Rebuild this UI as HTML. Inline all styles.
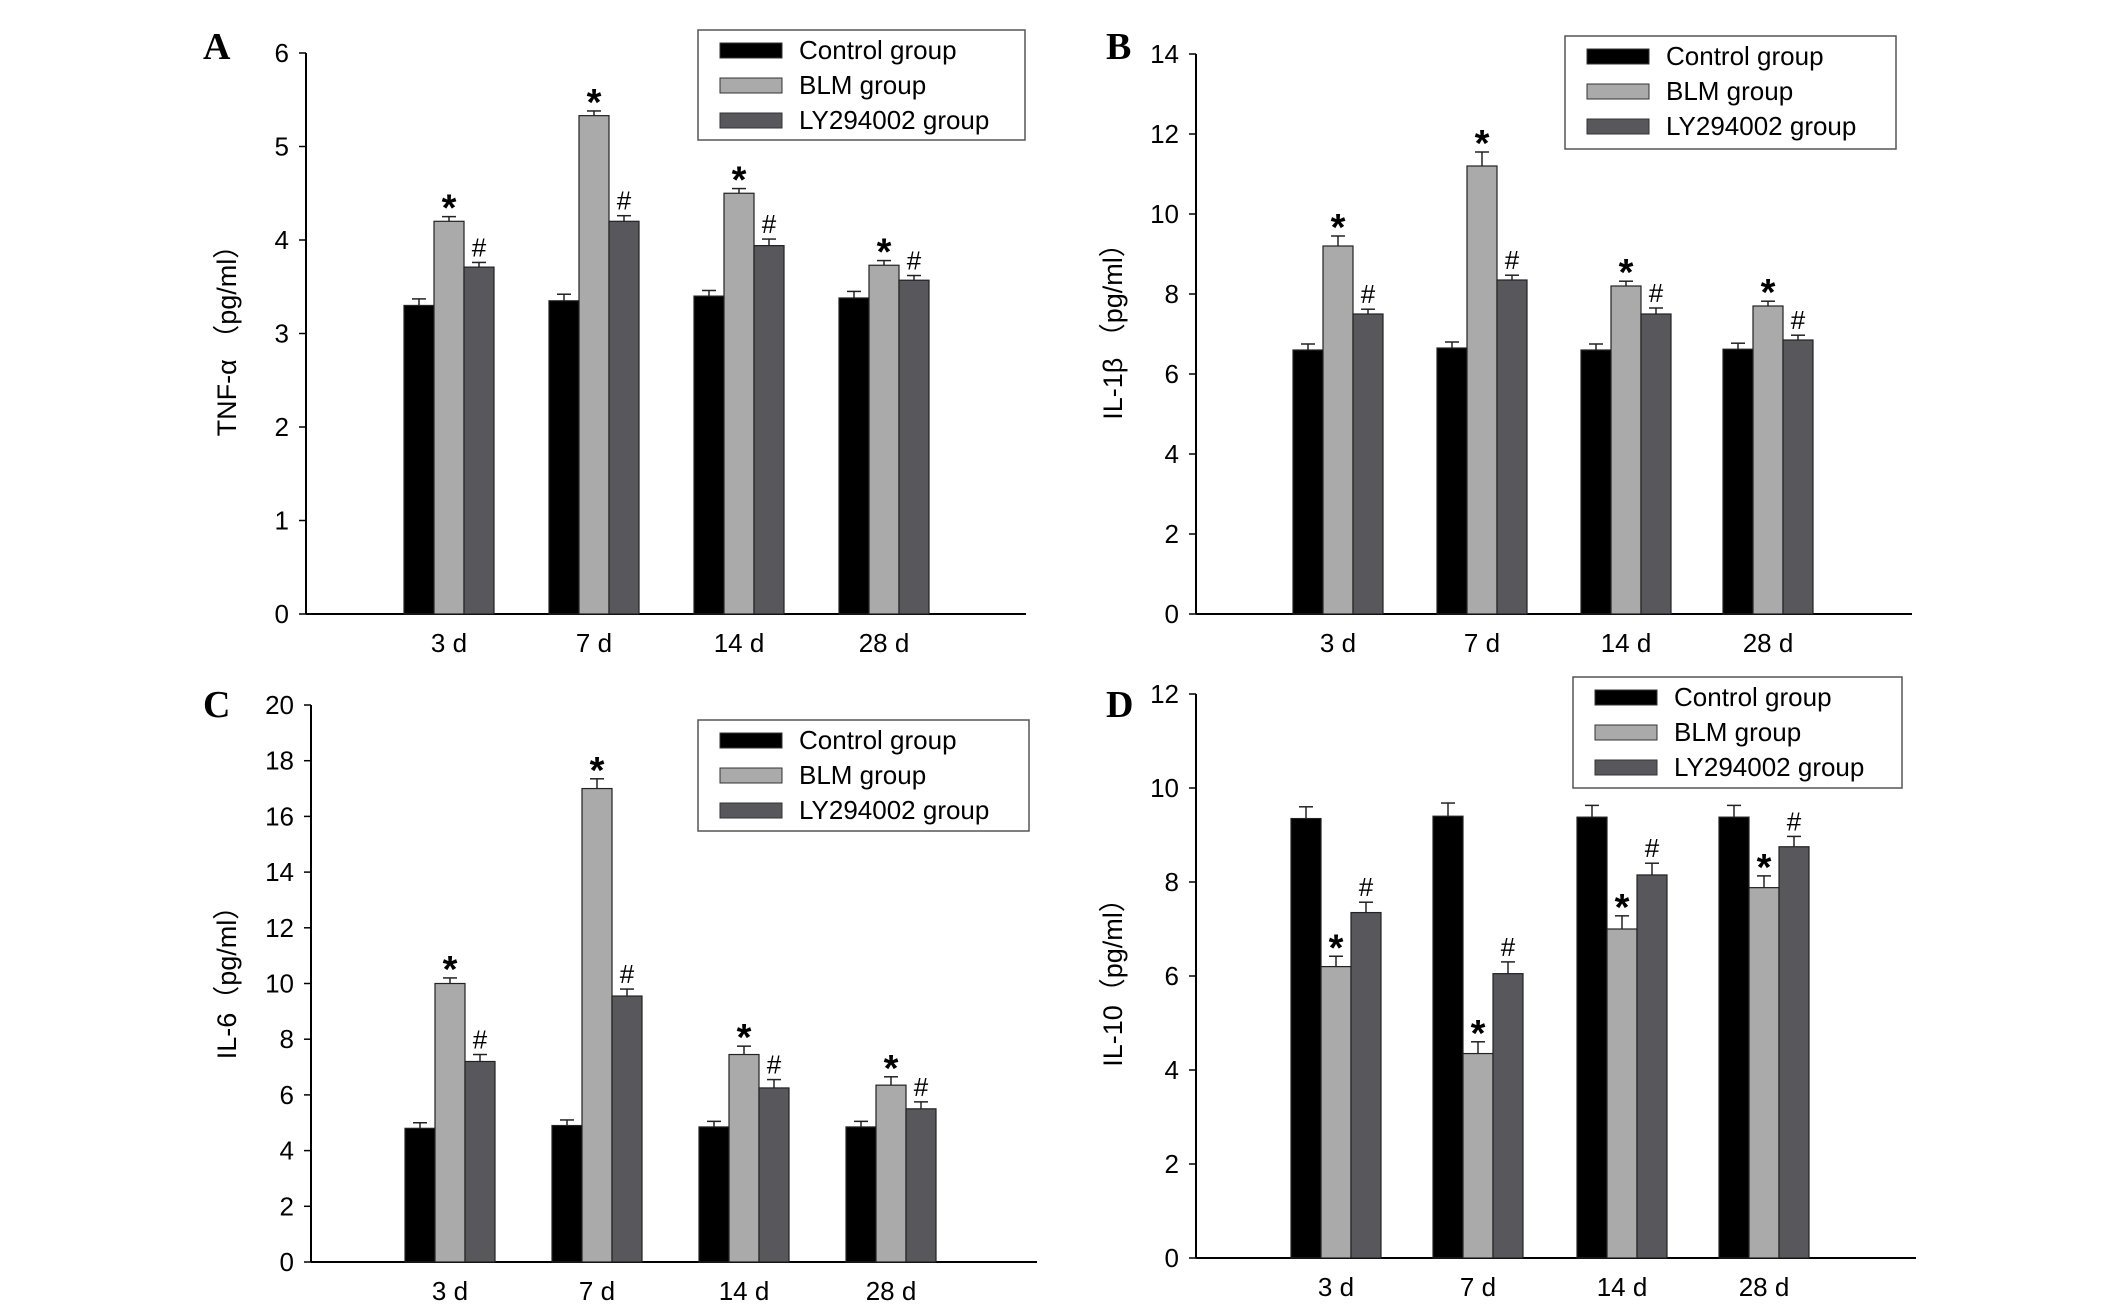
<!DOCTYPE html>
<html><head><meta charset="utf-8">
<style>
html,body{margin:0;padding:0;background:#fff;}
svg{display:block;font-family:"Liberation Sans","Noto Sans CJK SC",sans-serif;}
</style></head>
<body>
<svg id="chart" width="2126" height="1307" viewBox="0 0 2126 1307" xmlns="http://www.w3.org/2000/svg"></svg>
<script>
const categories = ["3 d","7 d","14 d","28 d"];
const seriesNames = ["Control group","BLM group","LY294002 group"];
const seriesColors = ["#000000","#aaaaaa","#58585c"];
// Panel A TNF-a
const aControl = [3.30,3.35,3.40,3.38];
const aBLM = [4.20,5.33,4.50,3.73];
const aLY = [3.71,4.20,3.94,3.57];
const aErrC = [0.07,0.07,0.06,0.07];
const aErrB = [0.05,0.05,0.05,0.05];
const aErrL = [0.05,0.06,0.07,0.05];
const aTicks = [0,1,2,3,4,5,6];
// Panel B IL-1b
const bControl = [6.60,6.65,6.60,6.62];
const bBLM = [9.20,11.20,8.20,7.70];
const bLY = [7.50,8.35,7.50,6.85];
const bErrC = [0.15,0.15,0.15,0.15];
const bErrB = [0.25,0.35,0.12,0.12];
const bErrL = [0.12,0.12,0.15,0.12];
const bTicks = [0,2,4,6,8,10,12,14];
// Panel C IL-6
const cControl = [4.80,4.90,4.85,4.85];
const cBLM = [10.00,17.00,7.45,6.35];
const cLY = [7.20,9.55,6.25,5.50];
const cErrC = [0.2,0.2,0.2,0.2];
const cErrB = [0.2,0.35,0.3,0.3];
const cErrL = [0.25,0.25,0.3,0.25];
const cTicks = [0,2,4,6,8,10,12,14,16,18,20];
// Panel D IL-10
const dControl = [9.35,9.40,9.38,9.38];
const dBLM = [6.20,4.35,7.00,7.88];
const dLY = [7.35,6.05,8.15,8.75];
const dErrC = [0.25,0.28,0.25,0.25];
const dErrB = [0.22,0.25,0.28,0.25];
const dErrL = [0.22,0.25,0.25,0.22];
const dTicks = [0,2,4,6,8,10,12];

const svg = document.getElementById('chart');
const NS = 'http://www.w3.org/2000/svg';
function mk(tag, attrs, parent){
  const e = document.createElementNS(NS, tag);
  for (const k in attrs) e.setAttribute(k, attrs[k]);
  (parent||svg).appendChild(e);
  return e;
}

const panels = [
  {id:'a', letter:'A', title:'TNF-α （pg/ml）', data:[aControl,aBLM,aLY], err:[aErrC,aErrB,aErrL], ticks:aTicks,
   ax:306, y0:614, yTop:53, xEnd:1026, centers:[449,594,739,884], legend:[698,30,327,110], lx:203, ly:47, tx:226, ty:334, catY:652},
  {id:'b', letter:'B', title:'IL-1β （pg/ml）', data:[bControl,bBLM,bLY], err:[bErrC,bErrB,bErrL], ticks:bTicks,
   ax:1196, y0:614, yTop:54, xEnd:1912, centers:[1338,1482,1626,1768], legend:[1565,36,331,113], lx:1106, ly:47, tx:1112, ty:325, catY:652},
  {id:'c', letter:'C', title:'IL-6（pg/ml）', data:[cControl,cBLM,cLY], err:[cErrC,cErrB,cErrL], ticks:cTicks,
   ax:311, y0:1262, yTop:705, xEnd:1037, centers:[450,597,744,891], legend:[698,720,331,111], lx:203, ly:705, tx:226, ty:976, catY:1300},
  {id:'d', letter:'D', title:'IL-10（pg/ml）', data:[dControl,dBLM,dLY], err:[dErrC,dErrB,dErrL], ticks:dTicks,
   ax:1196, y0:1258, yTop:694, xEnd:1916, centers:[1336,1478,1622,1764], legend:[1573,677,329,111], lx:1106, ly:705, tx:1112, ty:976, catY:1296}
];

const BW = 30;
panels.forEach(p => {
  const g = mk('g', {});
  
  
  const tmax = p.ticks[p.ticks.length-1];
  const yScale = v => p.y0 - (v / tmax) * (p.y0 - p.yTop);
  const xPos = (ci, si) => p.centers[ci] + (si - 1) * BW - BW/2;

  const L = mk('text', {x:p.lx, y:p.ly+12, 'font-family':'"Liberation Serif",serif', 'font-weight':'bold', 'font-size':38, fill:'#000'}, g);
  L.textContent = p.letter;
  
  

  const ya = mk('line', {x1:p.ax, y1:p.yTop, x2:p.ax, y2:p.y0, stroke:'#000', 'stroke-width':2}, g);
  
  
  const xa = mk('line', {x1:p.ax, y1:p.y0, x2:p.xEnd, y2:p.y0, stroke:'#000', 'stroke-width':2}, g);
  
  

  p.ticks.forEach(t => {
    const y = yScale(t);
    mk('line', {x1:p.ax-7, y1:y, x2:p.ax, y2:y, stroke:'#000', 'stroke-width':1.5}, g);
    const tl = mk('text', {x:p.ax-17, y:y+9, 'text-anchor':'end', 'font-size':26, fill:'#000'}, g);
    tl.textContent = t;
    
    
  });

  const yt = mk('text', {x:p.tx+10, y:p.ty, 'text-anchor':'middle', 'font-size':27, fill:'#000', transform:'rotate(-90 '+(p.tx+10)+' '+p.ty+')'}, g);
  yt.textContent = p.title;
  
  

  categories.forEach((c, ci) => {
    const cl = mk('text', {x:p.centers[ci], y:p.catY, 'text-anchor':'middle', 'font-size':26, fill:'#000'}, g);
    cl.textContent = c;
    
    
  });

  p.data.forEach((series, si) => {
    series.forEach((v, ci) => {
      const x = xPos(ci, si);
      const y = yScale(v);
      const e = p.err[si][ci];
      const ye = yScale(v + e);
      const cx = x + BW/2;
      mk('line', {x1:cx, y1:y, x2:cx, y2:ye, stroke:'#222', 'stroke-width':1.5}, g);
      mk('line', {x1:cx-7, y1:ye, x2:cx+7, y2:ye, stroke:'#222', 'stroke-width':1.5}, g);
      const r = mk('rect', {x:x, y:y, width:BW, height:p.y0 - y, fill:seriesColors[si], stroke:'#222', 'stroke-width':1.2}, g);
      
      
      if (si > 0) {
        const m = mk('text', {x:cx, y:ye - (si===1 ? -4 : 6), 'text-anchor':'middle', 'font-size': si===1 ? 38 : 26, 'font-weight': si===1 ? 'bold' : 'normal', fill:'#000'}, g);
        m.textContent = si===1 ? '*' : '#';
        
        
      }
    });
  });

  const [lx, ly, lw, lh] = p.legend;
  const lg = mk('g', {}, g);
  
  
  mk('rect', {x:lx, y:ly, width:lw, height:lh, fill:'#fff', stroke:'#555', 'stroke-width':1.5}, lg);
  seriesNames.forEach((n, si) => {
    const cy = ly + 20 + si * 35;
    mk('rect', {x:lx+22, y:cy-7, width:62, height:15, fill:seriesColors[si], stroke:'#333', 'stroke-width':1}, lg);
    const t = mk('text', {x:lx+101, y:cy+9, 'font-size':26, fill:'#000'}, lg);
    t.textContent = n;
    
    
  });
});
</script>
</body></html>
